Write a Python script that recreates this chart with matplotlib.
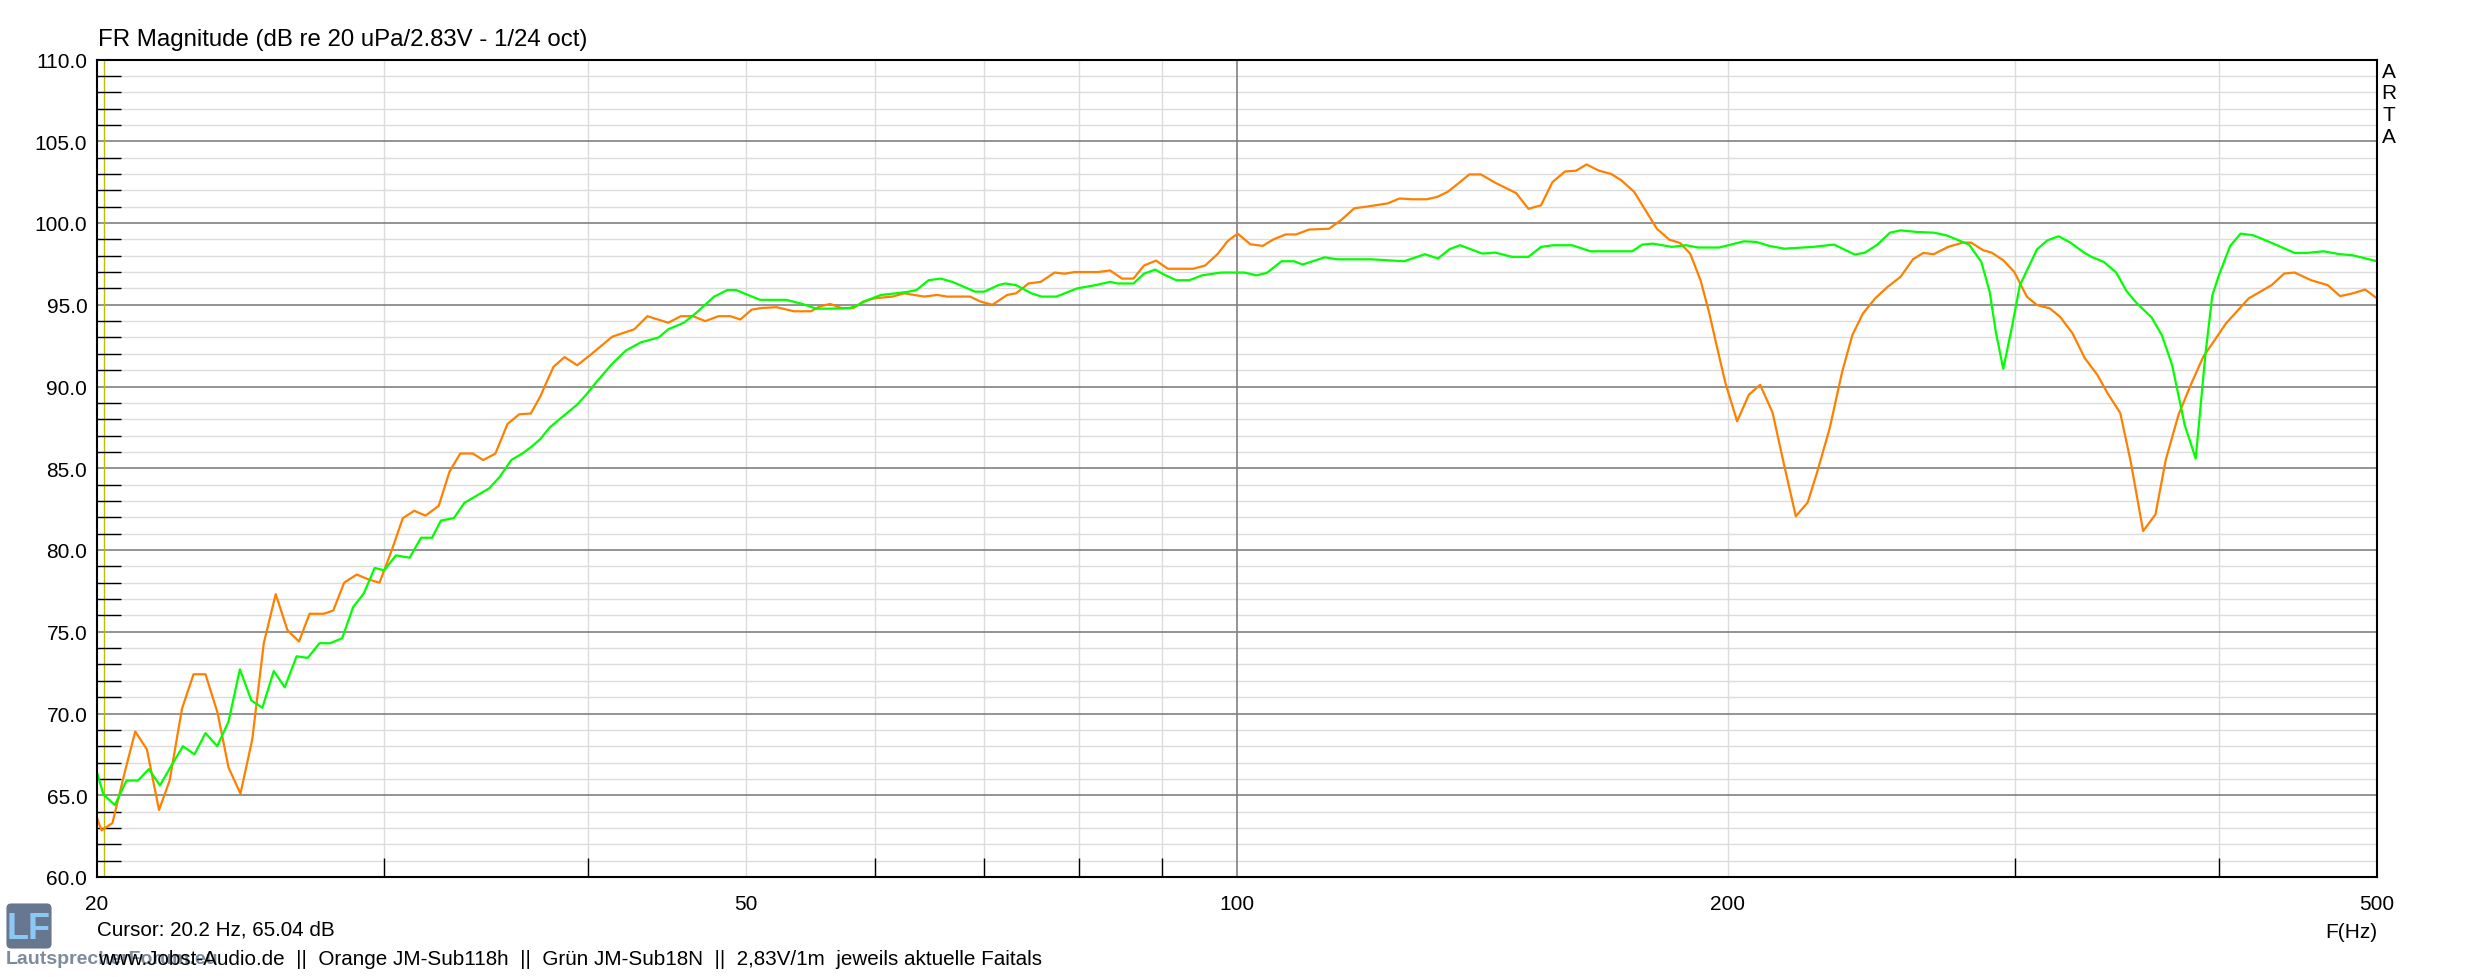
import numpy as np
import matplotlib
matplotlib.use('Agg')
import matplotlib.pyplot as plt
from matplotlib import font_manager
from matplotlib.ticker import FixedLocator, NullFormatter, MultipleLocator
from matplotlib.patches import FancyBboxPatch

plt.rcParams['font.family'] = ['Liberation Sans', 'DejaVu Sans']

# orange: JM-Sub118h  (frequency in Hz, level in dB)
orange_f = [20.0, 20.13, 20.44, 20.81, 21.11, 21.46, 21.83, 22.16, 22.55, 22.92,
            23.31, 23.71, 24.08, 24.49, 24.9, 25.31, 25.74, 26.17, 26.6, 27.0,
            27.55, 27.92, 28.35, 28.86, 29.34, 29.8, 30.3, 30.8, 31.3, 31.8,
            32.4, 32.9, 33.4, 34.0, 34.5, 35.1, 35.7, 36.3, 36.9, 37.4,
            37.8, 38.1, 38.7, 39.4, 40.1, 41.4, 42.7, 43.5, 44.8, 45.6,
            46.4, 47.2, 48.1, 48.9, 49.6, 50.4, 51.1, 52.2, 53.5, 54.8,
            55.5, 56.3, 57.2, 58.2, 59.0, 60.0, 61.5, 62.5, 64.3, 65.5,
            66.4, 68.6, 69.6, 70.8, 72.3, 73.2, 74.5, 75.8, 77.3, 78.4,
            79.5, 82.2, 83.6, 85.0, 86.4, 87.7, 89.2, 90.7, 94.0, 95.6,
            97.3, 98.7, 100.1, 101.9, 103.7, 105.3, 107.1, 108.7, 110.7, 113.9,
            115.9, 118.0, 120.1, 123.7, 125.8, 128.1, 130.7, 132.7, 134.6, 136.6,
            138.8, 141.1, 144.0, 148.3, 150.9, 153.6, 156.1, 158.9, 161.4, 163.8,
            166.7, 169.6, 172.1, 175.2, 177.8, 180.9, 184.1, 186.9, 189.6, 192.4,
            194.7, 197.0, 199.3, 202.6, 206.0, 209.3, 213.0, 216.5, 220.1, 223.8,
            226.9, 230.9, 235.0, 238.4, 242.0, 246.2, 250.6, 255.2, 259.7, 263.5,
            267.4, 272.9, 278.6, 281.9, 286.8, 290.2, 295.0, 299.6, 305.0, 309.4,
            315.0, 319.6, 325.3, 331.0, 336.9, 341.8, 348.0, 353.1, 359.4, 365.7,
            371.1, 377.8, 384.4, 391.3, 398.3, 404.0, 417.2, 430.9, 438.6, 445.1,
            455.6, 466.4, 474.6, 483.0, 491.7, 500.0]
orange_db = [63.6, 62.85, 63.3, 66.5, 68.9, 67.8, 64.1, 65.9, 70.3, 72.4,
             72.4, 70.05, 66.7, 65.1, 68.4, 74.3, 77.3, 75.1, 74.4, 76.1,
             76.1, 76.3, 78.0, 78.5, 78.2, 78.0, 79.9, 81.95, 82.4, 82.1,
             82.7, 84.8, 85.9, 85.9, 85.5, 85.9, 87.7, 88.3, 88.35, 89.4,
             90.45, 91.2, 91.8, 91.3, 91.9, 93.05, 93.5, 94.3, 93.9, 94.3,
             94.3, 94.0, 94.3, 94.3, 94.1, 94.7, 94.8, 94.85, 94.6, 94.6,
             94.9, 95.05, 94.8, 94.8, 95.2, 95.4, 95.5, 95.7, 95.5, 95.6,
             95.5, 95.5, 95.2, 95.0, 95.6, 95.7, 96.3, 96.4, 96.97, 96.9,
             97.0, 97.0, 97.1, 96.6, 96.6, 97.4, 97.7, 97.2, 97.2, 97.4,
             98.1, 98.9, 99.35, 98.7, 98.6, 99.0, 99.3, 99.3, 99.6, 99.65,
             100.2, 100.9, 101.0, 101.2, 101.5, 101.45, 101.45, 101.6, 101.9, 102.4,
             102.97, 102.97, 102.46, 101.83, 100.87, 101.08, 102.5, 103.15, 103.2, 103.58,
             103.2, 103.0, 102.6, 101.9, 100.87, 99.65, 98.98, 98.78, 98.13, 96.5,
             94.57, 92.34, 90.2, 87.87, 89.5, 90.1, 88.4, 85.2, 82.07, 82.9,
             84.8, 87.46, 90.91, 93.15, 94.47, 95.39, 96.1, 96.71, 97.78, 98.17,
             98.09, 98.54, 98.8, 98.8, 98.33, 98.19, 97.72, 97.01, 95.49, 94.98,
             94.78, 94.27, 93.25, 91.73, 90.71, 89.59, 88.37, 85.43, 81.16, 82.17,
             85.53, 88.27, 90.1, 91.83, 92.95, 93.86, 95.39, 96.2, 96.91, 96.97,
             96.5, 96.2, 95.53, 95.69, 95.93, 95.39]

# green: JM-Sub18N
green_f = [20.0, 20.18, 20.51, 20.85, 21.19, 21.52, 21.86, 22.21, 22.58, 22.95,
           23.31, 23.7, 24.08, 24.47, 24.87, 25.26, 25.67, 26.07, 26.51, 26.93,
           27.38, 27.8, 28.27, 28.71, 29.15, 29.6, 30.0, 30.5, 31.1, 31.6,
           32.1, 32.5, 33.1, 33.6, 34.2, 34.8, 35.3, 35.9, 36.5, 37.0,
           37.4, 37.9, 39.4, 39.9, 40.5, 41.4, 42.2, 43.1, 44.2, 44.8,
           45.8, 46.6, 47.8, 48.7, 49.3, 51.0, 52.9, 54.1, 55.2, 56.4,
           57.9, 58.5, 59.4, 60.5, 61.8, 62.9, 63.6, 64.7, 65.8, 66.9,
           69.1, 70.0, 71.4, 72.1, 73.2, 74.8, 75.9, 77.5, 79.8, 81.9,
           83.6, 84.5, 86.4, 87.7, 89.1, 90.2, 91.8, 93.5, 95.2, 97.8,
           101.0, 102.8, 104.3, 106.5, 108.4, 109.7, 113.2, 115.2, 120.8, 126.6,
           130.4, 132.8, 135.0, 137.0, 141.4, 144.0, 147.4, 150.9, 153.6, 156.3,
           160.5, 164.7, 174.7, 177.2, 179.9, 184.7, 188.5, 191.8, 197.5, 204.6,
           208.2, 212.0, 216.6, 225.6, 232.3, 239.2, 242.7, 247.0, 251.4, 255.2,
           261.2, 267.4, 272.2, 277.0, 281.1, 286.0, 289.4, 291.9, 295.0, 298.8,
           302.0, 304.4, 309.4, 314.0, 319.0, 324.3, 330.2, 334.1, 340.0, 346.0,
           351.1, 356.3, 363.7, 369.0, 374.4, 381.1, 387.1, 392.4, 396.3, 400.0,
           406.4, 412.4, 419.8, 429.6, 445.1, 453.0, 463.6, 474.6, 483.0, 500.0]
green_db = [66.4, 65.05, 64.4, 65.9, 65.9, 66.6, 65.6, 66.8, 68.0, 67.5,
            68.8, 68.0, 69.5, 72.7, 70.8, 70.35, 72.6, 71.6, 73.5, 73.4,
            74.3, 74.3, 74.6, 76.5, 77.35, 78.9, 78.76, 79.67, 79.53, 80.75,
            80.75, 81.8, 81.95, 82.89, 83.33, 83.78, 84.45, 85.51, 85.93, 86.38,
            86.79, 87.5, 88.9, 89.5, 90.3, 91.4, 92.2, 92.7, 93.0, 93.5,
            93.9, 94.5, 95.5, 95.9, 95.9, 95.3, 95.3, 95.06, 94.76, 94.76,
            94.8, 94.96, 95.3, 95.6, 95.7, 95.8, 95.9, 96.5, 96.6, 96.4,
            95.8, 95.8, 96.2, 96.3, 96.2, 95.7, 95.5, 95.5, 96.0, 96.2,
            96.4, 96.3, 96.3, 96.9, 97.15, 96.85, 96.5, 96.5, 96.8, 96.97,
            96.97, 96.8, 96.95, 97.66, 97.66, 97.46, 97.9, 97.78, 97.78, 97.66,
            98.09, 97.83, 98.4, 98.64, 98.13, 98.19, 97.93, 97.93, 98.54, 98.64,
            98.64, 98.27, 98.27, 98.68, 98.74, 98.54, 98.64, 98.5, 98.5, 98.88,
            98.84, 98.6, 98.43, 98.54, 98.68, 98.07, 98.19, 98.68, 99.41, 99.55,
            99.45, 99.41, 99.25, 98.94, 98.68, 97.62, 95.79, 93.35, 91.08, 93.76,
            96.2, 96.91, 98.39, 98.94, 99.19, 98.8, 98.23, 97.93, 97.62, 96.97,
            95.83, 95.08, 94.23, 93.15, 91.32, 87.66, 85.59, 91.93, 95.59, 96.81,
            98.6, 99.35, 99.25, 98.84, 98.17, 98.17, 98.27, 98.09, 98.03, 97.66]

x_labels = [20, 50, 100, 200, 500]
x_minor = [30, 40, 60, 70, 80, 90, 300, 400]
y_labels = list(range(60, 111, 5))
cursor_f = 20.2

W, H = 2473, 978
fig = plt.figure(figsize=(W / 100, H / 100), dpi=100)
ax = fig.add_axes([97 / W, 100 / H, 2280 / W, 817.5 / H])

# grid
for v in range(61, 110):
    if v % 5:
        ax.axhline(v, color='#dcdcdc', lw=1.0, zorder=0.5)
for v in y_labels[1:-1]:
    ax.axhline(v, color='#808080', lw=1.2, zorder=0.6)
for f in x_minor + [50, 200]:
    ax.axvline(f, color='#dcdcdc', lw=1.0, zorder=0.5)
ax.axvline(100, color='#808080', lw=1.2, zorder=0.6)
ax.axvline(cursor_f, color='#bdbd00', lw=1.0, zorder=0.7)

ax.plot(orange_f, orange_db, color='#ff8000', lw=1.6, zorder=2)
ax.plot(green_f, green_db, color='#00ff00', lw=1.6, zorder=2.1)

ax.set_xscale('log')
ax.set_xlim(20, 500)
ax.set_ylim(60, 110)
ax.set_xticks(x_labels)
ax.set_xticklabels([str(v) for v in x_labels])
ax.xaxis.set_minor_locator(FixedLocator(x_minor))
ax.xaxis.set_minor_formatter(NullFormatter())
ax.set_yticks(y_labels)
ax.set_yticklabels(['%.1f' % v for v in y_labels])
ax.yaxis.set_minor_locator(MultipleLocator(1))
ax.tick_params(which='major', length=0, labelsize=15)
ax.tick_params(axis='x', which='major', pad=12)
ax.tick_params(axis='y', which='major', pad=7)
ax.tick_params(axis='x', which='minor', direction='in', length=13.7, width=1, color='black')
ax.tick_params(axis='y', which='minor', direction='in', length=17, width=1, color='black')
for s in ax.spines.values():
    s.set_linewidth(1.5)
    s.set_color('black')

# texts
fig.text(98 / W, 1 - 40 / H, 'FR Magnitude (dB re 20 uPa/2.83V - 1/24 oct)',
         fontsize=17.3, ha='left', va='center')
for i, ch in enumerate('ARTA'):
    fig.text(2389 / W, 1 - (72 + 21.7 * i) / H, ch, fontsize=15, ha='center', va='center')
fig.text(2377 / W, 1 - 933 / H, 'F(Hz)', fontsize=15, ha='right', va='center')

# footer font: narrow if the sandbox has it, else regular at matching width
names = {f.name for f in font_manager.fontManager.ttflist}
if 'Liberation Sans Narrow' in names:
    foot = dict(family=['Liberation Sans Narrow'], fontsize=18.2)
else:
    foot = dict(family=['Liberation Sans'], fontsize=14.9)

fig.text(97 / W, 1 - 930 / H, 'Cursor: 20.2 Hz, 65.04 dB', ha='left', va='center', **foot)

# logo + watermark
lax = fig.add_axes([5 / W, (H - 951) / H, 48 / W, 48 / H])
lax.set_axis_off()
lax.set_xlim(0, 1)
lax.set_ylim(0, 1)
lax.add_patch(FancyBboxPatch((0.03, 0.03), 0.94, 0.94, boxstyle='round,pad=0,rounding_size=0.1',
                             fc='#66778f', ec='none'))
lax.text(0.5, 0.45, 'LF', color='#8cc8f5', fontsize=26, fontweight='bold',
         ha='center', va='center')
fig.text(6 / W, 1 - 960 / H, 'LautsprecherForum.eu', fontsize=14, fontweight='bold',
         color='#6f7f93', alpha=0.9, ha='left', va='center')

fig.text(98 / W, 1 - 960 / H,
         'www.Jobst-Audio.de  ||  Orange JM-Sub118h  ||  Grün JM-Sub18N  ||  2,83V/1m  jeweils aktuelle Faitals',
         ha='left', va='center', **foot)

fig.savefig('out.png', dpi=100)
